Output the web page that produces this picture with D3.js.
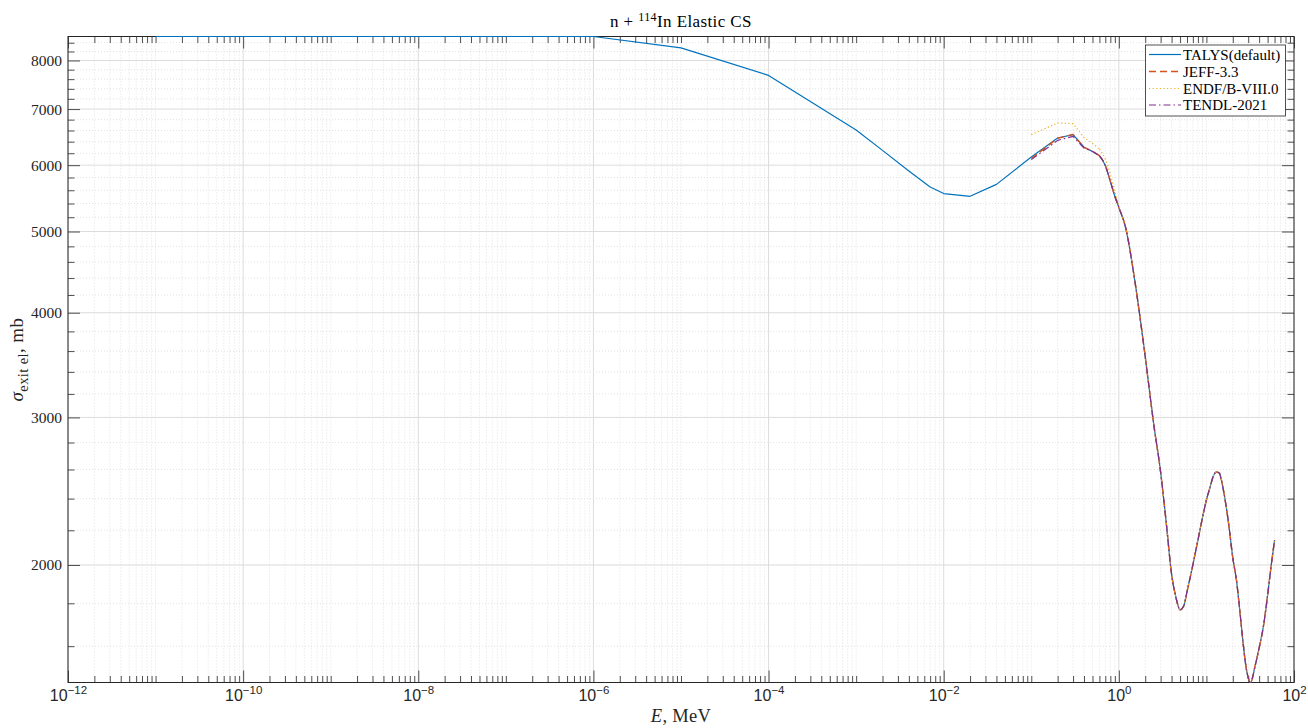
<!DOCTYPE html>
<html>
<head>
<meta charset="utf-8">
<script src="https://cdn.jsdelivr.net/npm/d3@7"></script>
<style>
  body { margin: 0; background: #fff; }
  svg { display: block; font-family: "Liberation Serif", "DejaVu Serif", serif; }
</style>
</head>
<body>
<svg id="chart" width="1308" height="728"></svg>
<script>
// ---------------- data ----------------
const talysE = [1e-11, 1e-10, 1e-9, 1e-8, 1e-7, 1e-6, 1e-5, 1e-4, 1e-3, 2e-3, 4e-3, 7e-3, 1e-2, 2e-2, 4e-2,
  0.1, 0.2, 0.3, 0.4, 0.5, 0.6, 0.7, 0.8, 0.9, 1.0, 1.2, 1.5, 2.0, 2.5, 3.0, 3.5, 4.0, 4.5, 5, 5.5, 6, 7, 8, 9,
  10, 11, 12, 13, 14, 15, 16, 18, 20, 22, 24, 26, 28, 30, 32, 34, 36, 40, 45, 50, 55, 60];
const talysSigma = [8545, 8545, 8545, 8545, 8545, 8545, 8283, 7678, 6610, 6249, 5905, 5650, 5550, 5508, 5692,
  6135, 6465, 6525, 6304, 6231, 6156, 5996, 5738, 5508, 5343, 5045, 4410, 3545, 2945, 2580, 2230, 1950, 1827, 1768, 1787, 1858, 2000, 2142, 2276,
  2391, 2476, 2554, 2582, 2575, 2512, 2424, 2233, 2039, 1920, 1768, 1628, 1524, 1467, 1448, 1475, 1516, 1592, 1696, 1842, 2000, 2142];

const evalE = [0.1, 0.2, 0.3, 0.4, 0.5, 0.6, 0.7, 0.8, 0.9, 1.0, 1.2, 1.5, 2.0, 2.5, 3.0, 3.5, 4.0, 4.5, 5, 5.5, 6, 7, 8, 9,
  10, 11, 12, 13, 14, 15, 16, 18, 20, 22, 24, 26, 28, 30, 32, 34, 36, 40, 45, 50, 55, 60];
const tail = [5045, 4410, 3545, 2945, 2580, 2230, 1950, 1827, 1768, 1787, 1858, 2000, 2142, 2276,
  2391, 2476, 2554, 2582, 2575, 2512, 2424, 2233, 2039, 1920, 1768, 1628, 1524, 1467, 1448, 1475, 1516, 1592, 1696, 1842, 2000, 2142];
const jeffSigma  = [6110, 6460, 6530, 6300, 6235, 6160, 5996, 5738, 5508, 5343].concat(tail);
const endfSigma  = [6525, 6738, 6725, 6475, 6370, 6270, 6100, 5850, 5580, 5370].concat(tail);
const tendlSigma = [6092, 6423, 6494, 6290, 6231, 6156, 5996, 5738, 5508, 5343].concat(tail);

const seriesNames = ["TALYS(default)", "JEFF-3.3", "ENDF/B-VIII.0", "TENDL-2021"];
const seriesColors = ["#0072BD", "#D95319", "#EDB120", "#7E2F8E"];
const seriesDash = [null, "7,4", "1.2,2.4", "7,3,1.5,3"];
const seriesWidth = [1.2, 1.4, 1.2, 1.2];

const yMajorTicks = [2000, 3000, 4000, 5000, 6000, 7000, 8000];
const xLabelExps = [-12, -10, -8, -6, -4, -2, 0, 2];

// ---------------- layout ----------------
const L = 68, R = 1294, T = 36.5, B = 682.5;
const svg = d3.select("#chart");

const allSigma = talysSigma.concat(jeffSigma, endfSigma, tendlSigma);
const x = d3.scaleLog().domain([1e-12, 1e2]).range([L, R]);
const y = d3.scaleLog().domain([d3.min(allSigma), d3.max(allSigma)]).range([B, T]);

const xMajor = xLabelExps.map(e => Math.pow(10, e));
const xMinor = [];
for (let k = -12; k < 2; k++) {
  for (let m = 1; m <= 9; m++) {
    if (m === 1 && k % 2 === 0) continue;
    xMinor.push(m * Math.pow(10, k));
  }
}
const yMinor = d3.range(1600, 8600, 200).filter(v => v % 1000 !== 0 && v >= y.domain()[0] && v <= y.domain()[1]);

// ---------------- grid ----------------
const grid = svg.append("g");
grid.selectAll(".gxm").data(xMinor).join("line")
  .attr("x1", d => x(d)).attr("x2", d => x(d)).attr("y1", T).attr("y2", B)
  .attr("stroke", "#cfcfcf").attr("stroke-width", 0.6).attr("stroke-dasharray", "1,2");
grid.selectAll(".gym").data(yMinor).join("line")
  .attr("y1", d => y(d)).attr("y2", d => y(d)).attr("x1", L).attr("x2", R)
  .attr("stroke", "#cfcfcf").attr("stroke-width", 0.6).attr("stroke-dasharray", "1,2");
grid.selectAll(".gxM").data(xMajor).join("line")
  .attr("x1", d => x(d)).attr("x2", d => x(d)).attr("y1", T).attr("y2", B)
  .attr("stroke", "#dcdcdc").attr("stroke-width", 1);
grid.selectAll(".gyM").data(yMajorTicks).join("line")
  .attr("y1", d => y(d)).attr("y2", d => y(d)).attr("x1", L).attr("x2", R)
  .attr("stroke", "#dcdcdc").attr("stroke-width", 1);

// ---------------- axes ----------------
const axisColor = "#262626";
function styleAxis(g) {
  g.select(".domain").remove();
  g.selectAll(".tick line").attr("stroke", axisColor).attr("stroke-width", 0.8);
}
svg.append("g").attr("transform", `translate(0,${B})`)
  .call(d3.axisBottom(x).tickValues(xMinor).tickSize(-6.5).tickFormat(""))
  .call(styleAxis);
const xb = svg.append("g").attr("transform", `translate(0,${B})`)
  .call(d3.axisBottom(x).tickValues(xMajor).tickSize(-12).tickPadding(10).tickFormat(""))
  .call(styleAxis);
xb.selectAll(".tick text").each(function(d) {
  const t = d3.select(this);
  const e = Math.round(Math.log10(d));
  t.attr("fill", axisColor).attr("font-size", 16).attr("dy", null).attr("y", 18.5);
  t.append("tspan").text("10");
  t.append("tspan").attr("dy", -7).attr("font-size", 11.5).text((e < 0 ? "\u2212" : "") + Math.abs(e));
});
svg.append("g").attr("transform", `translate(0,${T})`)
  .call(d3.axisTop(x).tickValues(xMinor).tickSize(-6.5).tickFormat(""))
  .call(styleAxis);
svg.append("g").attr("transform", `translate(0,${T})`)
  .call(d3.axisTop(x).tickValues(xMajor).tickSize(-12).tickFormat(""))
  .call(styleAxis);
svg.append("g").attr("transform", `translate(${L},0)`)
  .call(d3.axisLeft(y).tickValues(yMinor).tickSize(-6.5).tickFormat(""))
  .call(styleAxis);
const yl = svg.append("g").attr("transform", `translate(${L},0)`)
  .call(d3.axisLeft(y).tickValues(yMajorTicks).tickSize(-12).tickPadding(6).tickFormat(d3.format("d")))
  .call(styleAxis);
yl.selectAll(".tick text").attr("fill", axisColor).attr("font-size", 15.5).attr("font-family", "Liberation Serif");
svg.append("g").attr("transform", `translate(${R},0)`)
  .call(d3.axisRight(y).tickValues(yMinor).tickSize(-6.5).tickFormat(""))
  .call(styleAxis);
svg.append("g").attr("transform", `translate(${R},0)`)
  .call(d3.axisRight(y).tickValues(yMajorTicks).tickSize(-12).tickFormat(""))
  .call(styleAxis);

svg.append("rect").attr("x", L).attr("y", T).attr("width", R - L).attr("height", B - T)
  .attr("fill", "none").attr("stroke", axisColor).attr("stroke-width", 1);

// ---------------- curves ----------------
const lineLin = d3.line().x(d => x(d[0])).y(d => y(d[1]));
const lineSmooth = d3.line().x(d => x(d[0])).y(d => y(d[1])).curve(d3.curveMonotoneX);
const seriesData = [
  d3.zip(talysE, talysSigma),
  d3.zip(evalE, jeffSigma),
  d3.zip(evalE, endfSigma),
  d3.zip(evalE, tendlSigma)
];
const plot = svg.append("g");
seriesData.forEach((d, i) => {
  const lo = d.filter(p => p[0] <= 0.6);
  const hi = d.filter(p => p[0] >= 0.6);
  [[lo, lineLin], [hi, lineSmooth]].forEach(([part, gen]) => {
    plot.append("path").datum(part)
      .attr("d", gen)
      .attr("fill", "none")
      .attr("stroke", seriesColors[i])
      .attr("stroke-width", seriesWidth[i])
      .attr("stroke-linejoin", "round")
      .attr("stroke-dasharray", seriesDash[i]);
  });
});

// ---------------- titles ----------------
const title = svg.append("text").attr("x", 681).attr("y", 27).attr("text-anchor", "middle")
  .attr("font-size", 17).attr("letter-spacing", 0.4).attr("fill", "#000");
title.append("tspan").text("n + ");
title.append("tspan").attr("dy", -6.5).attr("font-size", 12).text("114");
title.append("tspan").attr("dy", 6.5).text("In Elastic CS");

const xl = svg.append("text").attr("x", 681).attr("y", 722).attr("text-anchor", "middle")
  .attr("font-size", 18.5).attr("letter-spacing", 0.3).attr("fill", axisColor);
xl.append("tspan").attr("font-style", "italic").text("E");
xl.append("tspan").text(", MeV");

const ylab = svg.append("text").attr("transform", `translate(23,${(T + B) / 2}) rotate(-90)`)
  .attr("text-anchor", "middle").attr("font-size", 19).attr("letter-spacing", 0.4).attr("fill", axisColor);
ylab.append("tspan").attr("font-style", "italic").text("\u03C3");
ylab.append("tspan").attr("dy", 4.5).attr("font-size", 14.5).text("exit el");
ylab.append("tspan").attr("dy", -4.5).text(", mb");

// ---------------- legend ----------------
const lg = svg.append("g");
lg.append("rect").attr("x", 1145.5).attr("y", 45).attr("width", 140).attr("height", 71)
  .attr("fill", "#fff").attr("stroke", axisColor).attr("stroke-width", 0.8);
const rowY = [54.5, 71.5, 88.5, 105];
seriesNames.forEach((n, i) => {
  lg.append("line").attr("x1", 1149).attr("x2", 1181).attr("y1", rowY[i]).attr("y2", rowY[i])
    .attr("stroke", seriesColors[i]).attr("stroke-width", seriesWidth[i]).attr("stroke-dasharray", seriesDash[i]);
  lg.append("text").attr("x", 1183).attr("y", rowY[i] + 5).attr("font-size", 15).attr("fill", "#000").text(n);
});
</script>
</body>
</html>
